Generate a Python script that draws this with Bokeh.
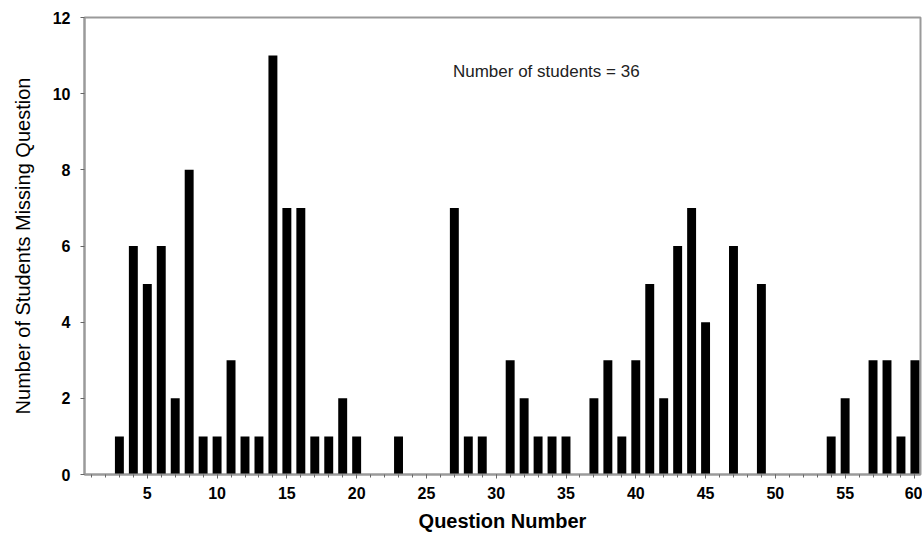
from bokeh.plotting import figure
from bokeh.models import SingleIntervalTicker, Label, Range1d
from bokeh.embed import file_html
from bokeh.resources import INLINE

# Data
questions = [3, 4, 5, 6, 7, 8, 9, 10, 11, 12, 13, 14, 15, 16, 17, 18, 19, 20,
             23, 27, 28, 29, 31, 32, 33, 34, 35, 37, 38, 39, 40, 41, 42, 43,
             44, 45, 47, 49, 54, 55, 57, 58, 59, 60]
missed = [1, 6, 5, 6, 2, 8, 1, 1, 3, 1, 1, 11, 7, 7, 1, 1, 2, 1,
          1, 7, 1, 1, 3, 2, 1, 1, 1, 2, 3, 1, 3, 5, 2, 6,
          7, 4, 6, 5, 1, 2, 3, 3, 1, 3]
x_title = "Question Number"
y_title = "Number of Students Missing Question"
note = "Number of students = 36"

FONT = "Liberation Sans"
GRAY = "#9a9a9a"

p = figure(width=922, height=534, output_backend="svg", toolbar_location=None,
           x_range=Range1d(0.5, 60.4), y_range=Range1d(0, 12))
p.min_border_left = 84
p.min_border_right = 2
p.min_border_top = 17
p.min_border_bottom = 0

p.vbar(x=questions, top=missed, width=0.64, fill_color="black", line_color=None)

p.grid.visible = False
p.outline_line_color = GRAY
p.outline_line_width = 2
p.background_fill_color = "white"
p.border_fill_color = "white"

xa = p.xaxis[0]
xa.ticker = SingleIntervalTicker(interval=5, num_minor_ticks=5)
xa.axis_line_color = GRAY
xa.axis_line_width = 2
xa.major_tick_line_color = "#666666"
xa.minor_tick_line_color = "#666666"
xa.major_tick_in = 0
xa.major_tick_out = 4
xa.minor_tick_in = 0
xa.minor_tick_out = 3
xa.major_label_text_font = FONT
xa.major_label_text_font_style = "bold"
xa.major_label_text_font_size = "16px"
xa.major_label_text_color = "black"
xa.major_label_standoff = 8
xa.axis_label = x_title
xa.axis_label_text_font = FONT
xa.axis_label_text_font_style = "bold"
xa.axis_label_text_font_size = "20px"
xa.axis_label_text_color = "black"
xa.axis_label_standoff = 8

ya = p.yaxis[0]
ya.ticker = SingleIntervalTicker(interval=2, num_minor_ticks=0)
ya.axis_line_color = GRAY
ya.axis_line_width = 2
ya.major_tick_line_color = "#666666"
ya.major_tick_in = 0
ya.major_tick_out = 4
ya.minor_tick_line_color = None
ya.major_label_text_font = FONT
ya.major_label_text_font_style = "bold"
ya.major_label_text_font_size = "16px"
ya.major_label_text_color = "black"
ya.major_label_standoff = 10
ya.axis_label = y_title
ya.axis_label_text_font = FONT
ya.axis_label_text_font_style = "normal"
ya.axis_label_text_font_size = "20px"
ya.axis_label_text_color = "black"
ya.axis_label_standoff = 16

p.add_layout(Label(x=26.9, y=10.59, text=note, text_font=FONT,
                   text_font_size="17px", text_color="#222222",
                   text_baseline="middle", text_align="left"))

open("out.html", "w").write(file_html(p, INLINE))
